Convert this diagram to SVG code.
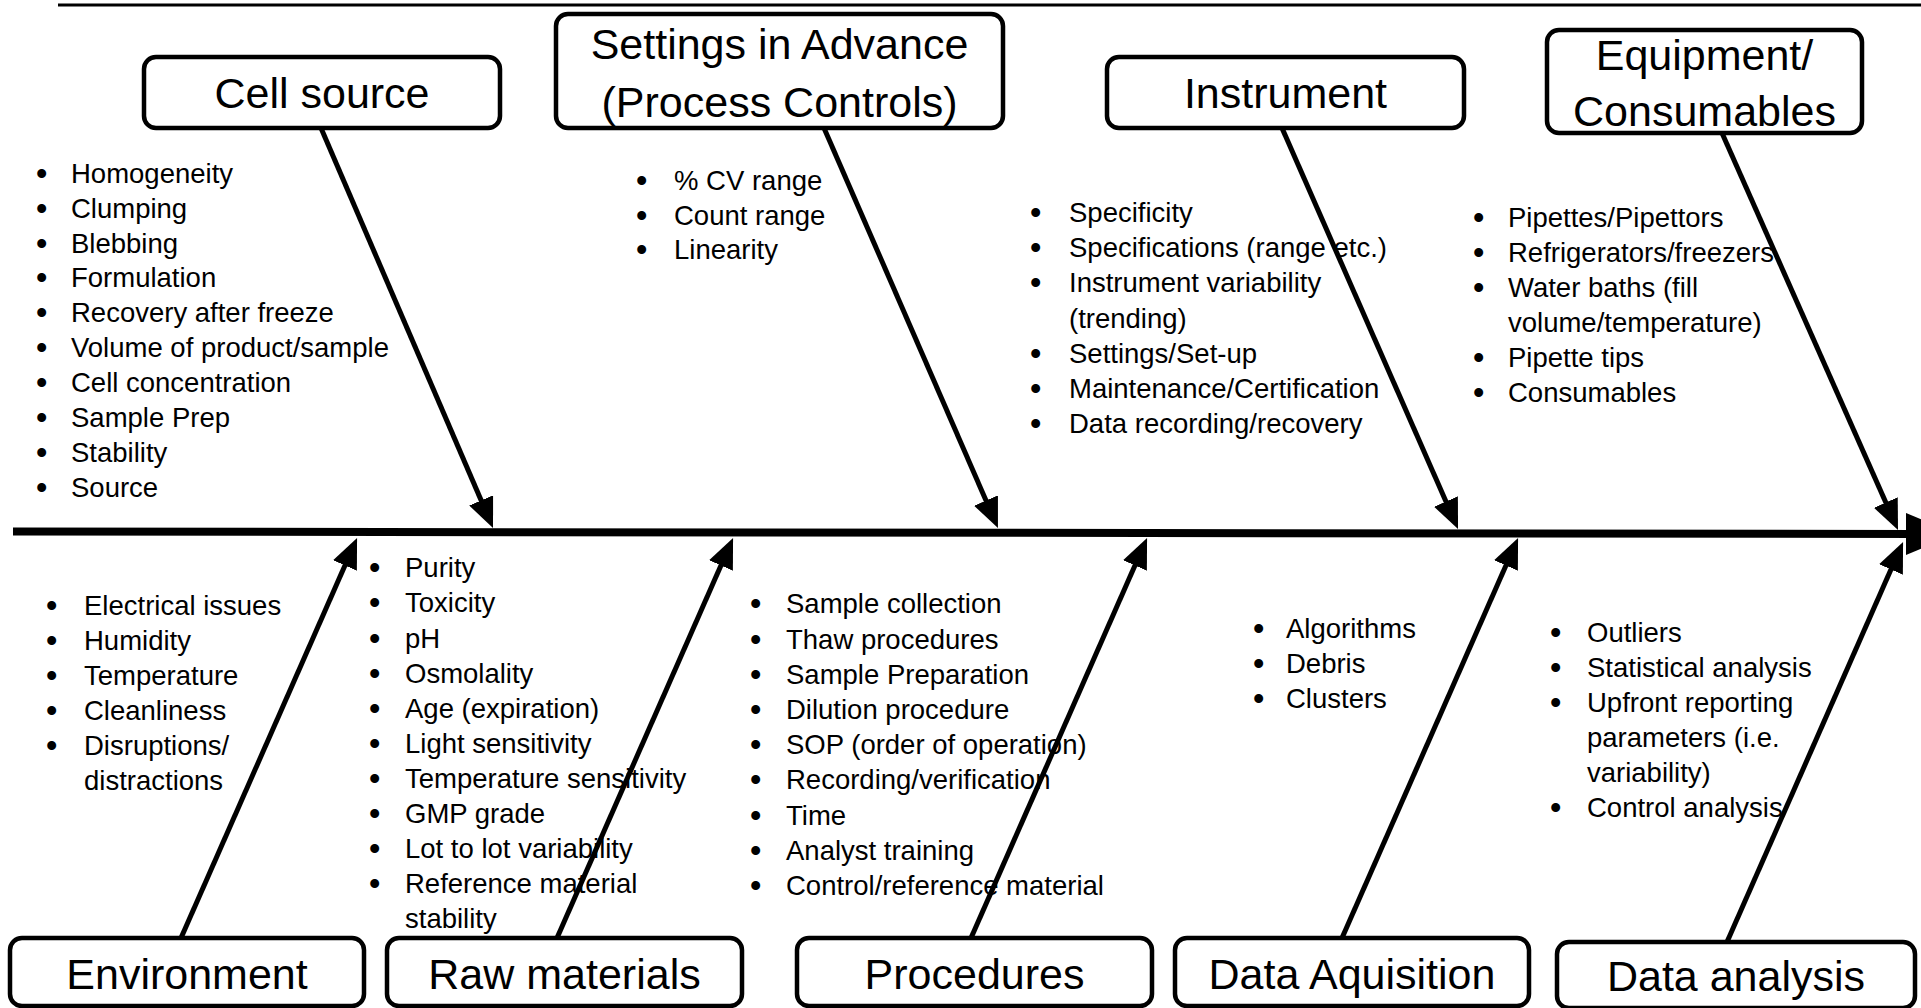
<svg xmlns="http://www.w3.org/2000/svg" width="1921" height="1008" viewBox="0 0 1921 1008">
<defs>
<style>
.box{fill:#fff;stroke:#000;stroke-width:4.5}
.title{font-family:"Liberation Sans",Arial,sans-serif;font-size:43px;fill:#000;text-anchor:middle}
.item{font-family:"Liberation Sans",Arial,sans-serif;font-size:27.5px;fill:#000}
.bul{font-family:"Liberation Sans",Arial,sans-serif;font-size:31px;font-weight:bold;fill:#000}
.branch{stroke:#000;stroke-width:5;fill:none;marker-end:url(#head)}
.spine{stroke:#000;stroke-width:8;fill:none;marker-end:url(#spinehead)}
.rule{stroke:#000;stroke-width:3;fill:none}
</style>
<marker id="head" markerUnits="userSpaceOnUse" viewBox="0 0 30 26" markerWidth="30" markerHeight="26" refX="10" refY="13" orient="auto"><path d="M0,0 L30,13 L0,26 Z" fill="#000"/></marker>
<marker id="spinehead" markerUnits="userSpaceOnUse" viewBox="0 0 50 42" markerWidth="50" markerHeight="42" refX="10" refY="21" orient="auto"><path d="M0,0 L50,21 L0,42 Z" fill="#000"/></marker>
</defs>
<rect x="0" y="0" width="1921" height="1008" fill="#fff"/>
<line class="rule" x1="58" y1="5" x2="1921" y2="5"/>

<g id="node-cell-source">
<rect class="box" x="144" y="57" width="356" height="71" rx="12"/>
<text class="title" x="322" y="107.5">Cell source</text>
</g>
<g id="node-settings">
<rect class="box" x="556" y="14" width="447" height="114" rx="12"/>
<text class="title" x="779.5" y="59">Settings in Advance</text>
<text class="title" x="779.5" y="117">(Process Controls)</text>
</g>
<g id="node-instrument">
<rect class="box" x="1107" y="57" width="357" height="71" rx="12"/>
<text class="title" x="1285.5" y="107.5">Instrument</text>
</g>
<g id="node-equipment">
<rect class="box" x="1547" y="30" width="315" height="103" rx="12"/>
<text class="title" x="1704.5" y="69.5">Equipment/</text>
<text class="title" x="1704.5" y="126">Consumables</text>
</g>
<g id="node-environment">
<rect class="box" x="10" y="938" width="354" height="68" rx="12"/>
<text class="title" x="187" y="989">Environment</text>
</g>
<g id="node-raw-materials">
<rect class="box" x="387" y="938" width="355" height="68" rx="12"/>
<text class="title" x="564.5" y="989">Raw materials</text>
</g>
<g id="node-procedures">
<rect class="box" x="797" y="938" width="355" height="68" rx="12"/>
<text class="title" x="974.5" y="989">Procedures</text>
</g>
<g id="node-data-aquisition">
<rect class="box" x="1175" y="938" width="354" height="68" rx="12"/>
<text class="title" x="1352" y="989">Data Aquisition</text>
</g>
<g id="node-data-analysis">
<rect class="box" x="1557" y="942" width="358" height="66" rx="12"/>
<text class="title" x="1736" y="991">Data analysis</text>
</g>

<g id="list-cell-source">
<text class="bul" transform="translate(-0.8,1.1)"><tspan x="37" y="182.7">•</tspan><tspan x="37" y="217.6">•</tspan><tspan x="37" y="252.5">•</tspan><tspan x="37" y="287.4">•</tspan><tspan x="37" y="322.3">•</tspan><tspan x="37" y="357.2">•</tspan><tspan x="37" y="392.1">•</tspan><tspan x="37" y="427">•</tspan><tspan x="37" y="461.9">•</tspan><tspan x="37" y="496.8">•</tspan></text>
<text class="item"><tspan x="71" y="182.7">Homogeneity</tspan><tspan x="71" y="217.6">Clumping</tspan><tspan x="71" y="252.5">Blebbing</tspan><tspan x="71" y="287.4">Formulation</tspan><tspan x="71" y="322.3">Recovery after freeze</tspan><tspan x="71" y="357.2">Volume of product/sample</tspan><tspan x="71" y="392.1">Cell concentration</tspan><tspan x="71" y="427">Sample Prep</tspan><tspan x="71" y="461.9">Stability</tspan><tspan x="71" y="496.8">Source</tspan></text>
</g>
<g id="list-settings">
<text class="bul" transform="translate(-0.8,1.1)"><tspan x="637" y="190">•</tspan><tspan x="637" y="224.7">•</tspan><tspan x="637" y="259.4">•</tspan></text>
<text class="item"><tspan x="674" y="190">% CV range</tspan><tspan x="674" y="224.7">Count range</tspan><tspan x="674" y="259.4">Linearity</tspan></text>
</g>
<g id="list-instrument">
<text class="bul" transform="translate(-0.8,1.1)"><tspan x="1031" y="222">•</tspan><tspan x="1031" y="257.2">•</tspan><tspan x="1031" y="292.4">•</tspan><tspan x="1031" y="362.8">•</tspan><tspan x="1031" y="398">•</tspan><tspan x="1031" y="433.2">•</tspan></text>
<text class="item"><tspan x="1069" y="222">Specificity</tspan><tspan x="1069" y="257.2">Specifications (range etc.)</tspan><tspan x="1069" y="292.4">Instrument variability</tspan><tspan x="1069" y="327.6">(trending)</tspan><tspan x="1069" y="362.8">Settings/Set-up</tspan><tspan x="1069" y="398">Maintenance/Certification</tspan><tspan x="1069" y="433.2">Data recording/recovery</tspan></text>
</g>
<g id="list-equipment">
<text class="bul" transform="translate(-0.8,1.1)"><tspan x="1474" y="226.7">•</tspan><tspan x="1474" y="261.7">•</tspan><tspan x="1474" y="296.7">•</tspan><tspan x="1474" y="366.7">•</tspan><tspan x="1474" y="401.7">•</tspan></text>
<text class="item"><tspan x="1508" y="226.7">Pipettes/Pipettors</tspan><tspan x="1508" y="261.7">Refrigerators/freezers</tspan><tspan x="1508" y="296.7">Water baths (fill</tspan><tspan x="1508" y="331.7">volume/temperature)</tspan><tspan x="1508" y="366.7">Pipette tips</tspan><tspan x="1508" y="401.7">Consumables</tspan></text>
</g>
<g id="list-environment">
<text class="bul" transform="translate(-0.8,1.1)"><tspan x="47" y="615">•</tspan><tspan x="47" y="650">•</tspan><tspan x="47" y="685">•</tspan><tspan x="47" y="720">•</tspan><tspan x="47" y="755">•</tspan></text>
<text class="item"><tspan x="84" y="615">Electrical issues</tspan><tspan x="84" y="650">Humidity</tspan><tspan x="84" y="685">Temperature</tspan><tspan x="84" y="720">Cleanliness</tspan><tspan x="84" y="755">Disruptions/</tspan><tspan x="84" y="790">distractions</tspan></text>
</g>
<g id="list-raw-materials">
<text class="bul" transform="translate(-0.8,1.1)"><tspan x="370" y="577.3">•</tspan><tspan x="370" y="612.4">•</tspan><tspan x="370" y="647.5">•</tspan><tspan x="370" y="682.6">•</tspan><tspan x="370" y="717.7">•</tspan><tspan x="370" y="752.8">•</tspan><tspan x="370" y="787.9">•</tspan><tspan x="370" y="823">•</tspan><tspan x="370" y="858.1">•</tspan><tspan x="370" y="893.2">•</tspan></text>
<text class="item"><tspan x="405" y="577.3">Purity</tspan><tspan x="405" y="612.4">Toxicity</tspan><tspan x="405" y="647.5">pH</tspan><tspan x="405" y="682.6">Osmolality</tspan><tspan x="405" y="717.7">Age (expiration)</tspan><tspan x="405" y="752.8">Light sensitivity</tspan><tspan x="405" y="787.9">Temperature sensitivity</tspan><tspan x="405" y="823">GMP grade</tspan><tspan x="405" y="858.1">Lot to lot variability</tspan><tspan x="405" y="893.2">Reference material</tspan><tspan x="405" y="928.3">stability</tspan></text>
</g>
<g id="list-procedures">
<text class="bul" transform="translate(-0.8,1.1)"><tspan x="751" y="613.3">•</tspan><tspan x="751" y="648.5">•</tspan><tspan x="751" y="683.7">•</tspan><tspan x="751" y="718.9">•</tspan><tspan x="751" y="754.1">•</tspan><tspan x="751" y="789.3">•</tspan><tspan x="751" y="824.5">•</tspan><tspan x="751" y="859.7">•</tspan><tspan x="751" y="894.9">•</tspan></text>
<text class="item"><tspan x="786" y="613.3">Sample collection</tspan><tspan x="786" y="648.5">Thaw procedures</tspan><tspan x="786" y="683.7">Sample Preparation</tspan><tspan x="786" y="718.9">Dilution procedure</tspan><tspan x="786" y="754.1">SOP (order of operation)</tspan><tspan x="786" y="789.3">Recording/verification</tspan><tspan x="786" y="824.5">Time</tspan><tspan x="786" y="859.7">Analyst training</tspan><tspan x="786" y="894.9">Control/reference material</tspan></text>
</g>
<g id="list-data-aquisition">
<text class="bul" transform="translate(-0.8,1.1)"><tspan x="1254" y="638.3">•</tspan><tspan x="1254" y="673.3">•</tspan><tspan x="1254" y="708.3">•</tspan></text>
<text class="item"><tspan x="1286" y="638.3">Algorithms</tspan><tspan x="1286" y="673.3">Debris</tspan><tspan x="1286" y="708.3">Clusters</tspan></text>
</g>
<g id="list-data-analysis">
<text class="bul" transform="translate(-0.8,1.1)"><tspan x="1551" y="641.7">•</tspan><tspan x="1551" y="676.7">•</tspan><tspan x="1551" y="711.7">•</tspan><tspan x="1551" y="816.7">•</tspan></text>
<text class="item"><tspan x="1587" y="641.7">Outliers</tspan><tspan x="1587" y="676.7">Statistical analysis</tspan><tspan x="1587" y="711.7">Upfront reporting</tspan><tspan x="1587" y="746.7">parameters (i.e.</tspan><tspan x="1587" y="781.7">variability)</tspan><tspan x="1587" y="816.7">Control analysis</tspan></text>
</g>

<g id="connectors">
<line class="spine" x1="13" y1="531.5" x2="1916" y2="534"/>
<line class="branch" x1="321" y1="128" x2="485.1" y2="509.6"/>
<line class="branch" x1="824" y1="128" x2="990" y2="509.7"/>
<line class="branch" x1="1282" y1="128" x2="1450" y2="510.7"/>
<line class="branch" x1="1722" y1="133" x2="1889.9" y2="511.7"/>
<line class="branch" x1="181" y1="938" x2="349" y2="556.3"/>
<line class="branch" x1="557" y1="938" x2="725" y2="556.3"/>
<line class="branch" x1="971" y1="938" x2="1139" y2="556.3"/>
<line class="branch" x1="1342" y1="938" x2="1510" y2="556.3"/>
<line class="branch" x1="1727" y1="942" x2="1895" y2="560.3"/>
</g>
</svg>
